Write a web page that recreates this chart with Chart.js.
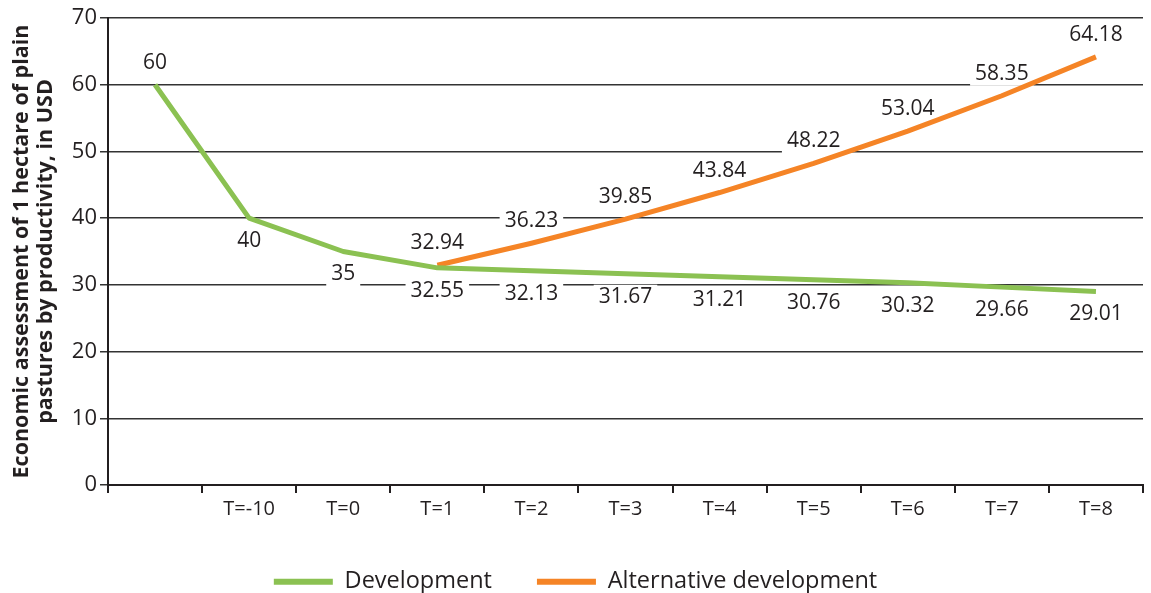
<!DOCTYPE html>
<html>
<head>
<meta charset="utf-8">
<script src="https://cdn.jsdelivr.net/npm/chart.js@4.4.0/dist/chart.umd.min.js"></script>
<style>
  html, body { margin: 0; padding: 0; background: #fff; }
  #wrap { width: 1151px; height: 593px; }
</style>
</head>
<body>
<div id="wrap"><canvas id="chart"></canvas></div>
<script>
// Data
const categories = ['', 'T=-10', 'T=0', 'T=1', 'T=2', 'T=3', 'T=4', 'T=5', 'T=6', 'T=7', 'T=8'];
const development = [60, 40, 35, 32.55, 32.13, 31.67, 31.21, 30.76, 30.32, 29.66, 29.01];
const alternative = [null, null, null, 32.94, 36.23, 39.85, 43.84, 48.22, 53.04, 58.35, 64.18];
const yMin = 0, yMax = 70, yStep = 10;

const GREEN = '#8bc152';
const ORANGE = '#f58426';
const TEXT = '#231f20';
const FONT = "'Open Sans', 'Noto Sans', sans-serif";

// value labels on a white box, drawn over the grid but under the lines
const valueLabels = {
    id: 'valueLabels',
    beforeDatasetsDraw(chart) {
        const ctx = chart.ctx;
        ctx.save();
        ctx.font = `21px ${FONT}`;
        ctx.textAlign = 'center';
        ctx.textBaseline = 'middle';
        chart.data.datasets.forEach((ds, i) => {
            const meta = chart.getDatasetMeta(i);
            meta.data.forEach((pt, j) => {
                const v = ds.data[j];
                if (v == null) return;
                const above = i === 1 || j === 0;
                const y = above ? pt.y - 22 : pt.y + 23;
                const txt = String(v);
                const w = ctx.measureText(txt).width + 10;
                ctx.fillStyle = '#fff';
                ctx.fillRect(pt.x - w / 2, y - 12, w, 24);
                ctx.fillStyle = TEXT;
                ctx.fillText(txt, pt.x, y);
            });
        });
        ctx.restore();
    }
};

const ctx = document.getElementById('chart').getContext('2d');
new Chart(ctx, {
    type: 'line',
    data: {
        labels: categories,
        datasets: [{
            label: 'Development',
            data: development,
            borderColor: GREEN,
            backgroundColor: GREEN,
            borderWidth: 5,
            tension: 0,
            pointRadius: 0,
            borderJoinStyle: 'round'
        }, {
            label: 'Alternative development',
            data: alternative,
            borderColor: ORANGE,
            backgroundColor: ORANGE,
            borderWidth: 5,
            tension: 0,
            pointRadius: 0,
            borderJoinStyle: 'round'
        }]
    },
    options: {
        responsive: true,
        maintainAspectRatio: false,
        animation: false,
        layout: { padding: { top: 18, right: 8, left: 8, bottom: 0 } },
        plugins: {
            tooltip: { enabled: false },
            legend: {
                position: 'bottom',
                maxHeight: 68,
                labels: {
                    color: TEXT,
                    font: { family: FONT, size: 23.5 },
                    boxWidth: 59,
                    boxHeight: 6,
                    padding: 45,
                    generateLabels: (chart) => Chart.defaults.plugins.legend.labels.generateLabels(chart)
                        .map(l => ({ ...l, lineWidth: 0 }))
                }
            }
        },
        scales: {
            x: {
                offset: true,
                grid: {
                    offset: true,
                    drawOnChartArea: false,
                    color: '#231f20',
                    lineWidth: 2,
                    tickLength: 8
                },
                border: { display: true, color: '#231f20', width: 2 },
                ticks: {
                    color: TEXT,
                    font: { family: FONT, size: 20 },
                    padding: 4,
                    maxRotation: 0,
                    autoSkip: false
                }
            },
            y: {
                min: yMin,
                max: yMax,
                afterFit: (scale) => { scale.width = 100; },
                grid: {
                    color: '#333',
                    lineWidth: 1.5,
                    tickLength: 8
                },
                border: { display: true, color: '#231f20', width: 2 },
                ticks: {
                    stepSize: yStep,
                    color: TEXT,
                    font: { family: FONT, size: 22 },
                    padding: 3
                },
                title: {
                    display: true,
                    text: ['Economic assessment of 1 hectare of plain', 'pastures by productivity, in USD'],
                    color: TEXT,
                    font: { family: FONT, size: 21.5, weight: 'bold', lineHeight: 1.1 },
                    padding: { top: 2, bottom: 4 }
                }
            }
        }
    },
    plugins: [valueLabels]
});
</script>
</body>
</html>
